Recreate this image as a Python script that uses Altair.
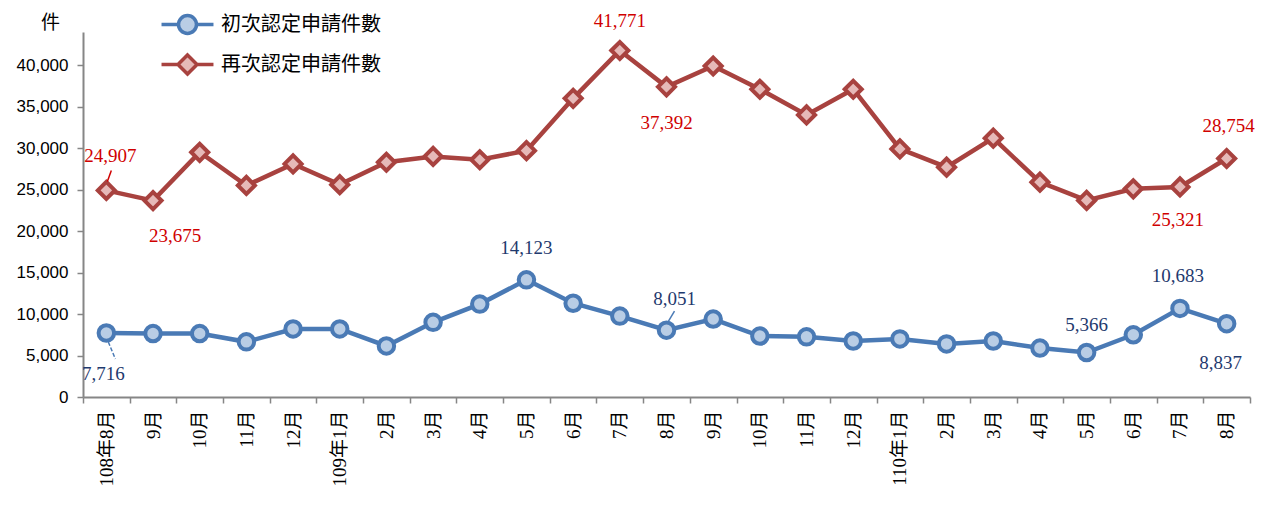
import json
import altair as alt
import pandas as pd

# ---------------- data ----------------
months = ["108年8月", "9月", "10月", "11月", "12月", "109年1月", "2月", "3月", "4月",
          "5月", "6月", "7月", "8月", "9月", "10月", "11月", "12月", "110年1月",
          "2月", "3月", "4月", "5月", "6月", "7月", "8月"]
first_apps = [7716, 7650, 7650, 6650, 8200, 8200, 6150, 9000, 11200, 14123, 11300, 9750,
              8051, 9400, 7350, 7250, 6750, 7000, 6400, 6750, 5900, 5366, 7500, 10683, 8837]
second_apps = [24907, 23675, 29500, 25500, 28100, 25600, 28300, 29000, 28600, 29700, 36000,
               41771, 37392, 39900, 37100, 34000, 37100, 29900, 27700, 31200, 25900, 23700,
               25100, 25321, 28754]
series_names = ["初次認定申請件數", "再次認定申請件數"]
y_ticks = [0, 5000, 10000, 15000, 20000, 25000, 30000, 35000, 40000]

# points that carry a data label (index into months)
first_labelled = [0, 9, 12, 21, 23, 24]
second_labelled = [0, 1, 11, 12, 23, 24]

# ---------------- styling ----------------
BLUE, BLUE_FILL, BLUE_TEXT = "#4A7AB5", "#B9CDE5", "#1F3A6E"
RED, RED_FILL, RED_TEXT = "#A8423F", "#E6B9B8", "#D00000"
AXIS_GREY = "#868686"
SERIF = "Liberation Serif, Noto Sans CJK TC"
CJK = "Noto Sans CJK TC"

# label offsets (dx, dy) in pixels
first_offsets = {0: (-3, 41), 9: (0, -32), 12: (8, -31), 21: (0, -27), 23: (-2, -32), 24: (-6, 39)}
second_offsets = {0: (4, -34), 1: (22, 35), 11: (0, -29), 12: (0, 36), 23: (-2, 33), 24: (2, -32)}
# leader lines: (series, index, xOffset, yOffset, x2Offset, y2Offset, colour, dash)
leaders = [
    ("second", 0, 1, -9, 5, -20, RED_TEXT, []),
    ("first", 0, 2, 9, 9, 26, BLUE, [4, 2]),
    ("first", 12, 2, -9, 8, -19, BLUE, []),
]

df = pd.DataFrame({
    "idx": list(range(len(months))),
    "month": months,
    "first": first_apps,
    "second": second_apps,
})

x_values = [i * 0.5 - 0.5 for i in range(2 * len(months) + 1)]
x_scale = alt.Scale(domain=[-0.5, len(months) - 0.5], nice=False, zero=False)
y_scale = alt.Scale(domain=[0, 44000], nice=False)

label_expr = ("datum.value % 1 === 0 ? " + json.dumps(months, ensure_ascii=False)
              + "[datum.value] : ''")

x_axis = alt.Axis(
    values=x_values, labelExpr=label_expr, title=None,
    labelAngle=270, labelAlign="right", labelBaseline="middle",
    labelFont=SERIF, labelFontSize=19, labelColor="#000000",
    labelPadding=7, labelOverlap=False, labelBound=False, labelFlush=False,
    tickSize=6, tickColor=AXIS_GREY, tickWidth=1.5,
    tickOpacity={"condition": {"test": "datum.value % 1 === 0", "value": 0}, "value": 1},
    domainColor=AXIS_GREY, domainWidth=2, grid=False,
)
y_axis = alt.Axis(
    values=y_ticks, format=",d", title="件",
    titleAngle=0, titleAlign="center", titleBaseline="middle",
    titleX=-33, titleY=-10, titleFont=CJK, titleFontSize=19, titleFontWeight="normal",
    titleColor="#000000",
    labelFont="Liberation Sans", labelFontSize=17, labelColor="#000000", labelPadding=9,
    tickSize=6, tickColor=AXIS_GREY, tickWidth=1.5,
    domainColor=AXIS_GREY, domainWidth=2, grid=False,
)

X = alt.X("idx:Q", scale=x_scale, axis=x_axis)
Y1 = alt.Y("first:Q", scale=y_scale, axis=y_axis)
Y2 = alt.Y("second:Q", scale=y_scale, axis=y_axis)

layers = [
    alt.Chart().mark_line(color=BLUE, strokeWidth=4.5).encode(x=X, y=Y1),
    alt.Chart().mark_point(shape="circle", filled=True, fill=BLUE_FILL, stroke=BLUE,
                           strokeWidth=4, size=240, opacity=1).encode(x=X, y=Y1),
    alt.Chart().mark_line(color=RED, strokeWidth=4.5).encode(x=X, y=Y2),
    alt.Chart().mark_point(shape="diamond", filled=True, fill=RED_FILL, stroke=RED,
                           strokeWidth=4, size=290, opacity=1).encode(x=X, y=Y2),
]

for field, i, xo, yo, x2o, y2o, col, dash in leaders:
    rule_kwargs = dict(color=col, strokeWidth=1.5, xOffset=xo, yOffset=yo,
                       x2Offset=x2o, y2Offset=y2o)
    if dash:
        rule_kwargs["strokeDash"] = dash
    layers.append(
        alt.Chart().mark_rule(**rule_kwargs).encode(
            x=X, x2="idx:Q", y=Y1 if field == "first" else Y2, y2=f"{field}:Q")
        .transform_filter(f"datum.idx === {i}")
    )

for i in first_labelled:
    dx, dy = first_offsets[i]
    layers.append(
        alt.Chart().mark_text(dx=dx, dy=dy, font=SERIF, fontSize=19, color=BLUE_TEXT,
                              baseline="middle", align="center")
        .encode(x=X, y=Y1, text=alt.Text("first:Q", format=","))
        .transform_filter(f"datum.idx === {i}")
    )
for i in second_labelled:
    dx, dy = second_offsets[i]
    layers.append(
        alt.Chart().mark_text(dx=dx, dy=dy, font=SERIF, fontSize=19, color=RED_TEXT,
                              baseline="middle", align="center")
        .encode(x=X, y=Y2, text=alt.Text("second:Q", format=","))
        .transform_filter(f"datum.idx === {i}")
    )

# legend: symbols are a line with a marker on it
circle_path = ("M-1.2,0L-0.415,0M0.415,0L1.2,0M-0.415,0A0.415,0.415,0,1,1,0.415,0"
               "A0.415,0.415,0,1,1,-0.415,0Z")
diamond_path = "M-1.2,0L-0.44,0M0.44,0L1.2,0M-0.44,0L0,-0.44L0.44,0L0,0.44Z"

legend = alt.Legend(
    title=None, orient="none", legendX=81, legendY=-31, padding=0,
    labelFont=CJK, labelFontSize=20, labelColor="#000000", labelOffset=10, labelLimit=400,
    symbolSize=1875, symbolStrokeWidth=3.5, rowPadding=0, symbolOpacity=1,
)
legend_df = pd.DataFrame({"series": series_names})
legend_layer = alt.Chart(legend_df).mark_point(filled=True, strokeWidth=3.5, size=1875, opacity=1).encode(
    shape=alt.Shape("series:N", scale=alt.Scale(domain=series_names, range=[circle_path, diamond_path]),
                    legend=legend),
    fill=alt.Fill("series:N", scale=alt.Scale(domain=series_names, range=[BLUE_FILL, RED_FILL]),
                  legend=legend),
    stroke=alt.Stroke("series:N", scale=alt.Scale(domain=series_names, range=[BLUE, RED]),
                      legend=legend),
).transform_filter("false")
layers.append(legend_layer)

chart = alt.layer(*layers, data=df).properties(
    width=1167, height=365,
    padding={"left": 75, "top": 24, "right": 8, "bottom": 110},
    autosize=alt.AutoSizeParams(type="none"),
    background="white",
).configure_view(stroke=None)

chart.save("out.html", embed_options={"renderer": "svg", "actions": False})
